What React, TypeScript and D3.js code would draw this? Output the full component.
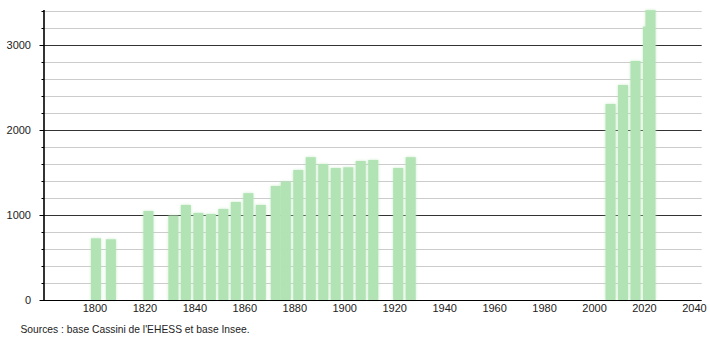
import React from "react";
import * as d3 from "d3";

const years = [1800, 1806, 1821, 1831, 1836, 1841, 1846, 1851, 1856, 1861, 1866, 1872, 1876, 1881, 1886, 1891, 1896, 1901, 1906, 1911, 1921, 1926, 2006, 2011, 2016, 2021, 2022];
const population = [725, 714, 1047, 992, 1118, 1024, 1012, 1071, 1153, 1257, 1118, 1341, 1392, 1529, 1680, 1600, 1553, 1561, 1635, 1647, 1553, 1680, 2306, 2529, 2812, 3216, 3410];
const xTicks = [1800, 1820, 1840, 1860, 1880, 1900, 1920, 1940, 1960, 1980, 2000, 2020, 2040];
const yMajor = [0, 1000, 2000, 3000];
const yMinor = [200, 400, 600, 800, 1200, 1400, 1600, 1800, 2200, 2400, 2600, 2800, 3200, 3400];
const sourceText = "Sources : base Cassini de l'EHESS et base Insee.";

export default function App() {
  const W = 710, H = 340;
  const x = d3.scaleLinear().domain([1779.2, 2042.5]).range([44, 701.7]);
  const y = d3.scaleLinear().domain([0, 3400]).range([300, 11]);
  const font = "'Liberation Sans', Arial, sans-serif";
  const bars = years.map((yr, i) => ({ yr, v: population[i] }));
  const green = "#b2e3b4";
  const py = (v: number) => Math.round(y(v)) + 0.5;
  return (
    <svg width={W} height={H} style={{ position: "absolute", left: 0, top: 0, background: "#fff" }}>
      <defs>
        <filter id="soft" x="-50%" y="-10%" width="200%" height="120%">
          <feGaussianBlur stdDeviation="1.8" />
        </filter>
      </defs>
      {yMinor.map((v) => (
        <line key={"gm" + v} x1={44} x2={701.7} y1={py(v)} y2={py(v)} stroke="#cccccc" strokeWidth={1} />
      ))}
      {yMajor.filter((v) => v > 0).map((v) => (
        <line key={"gM" + v} x1={44} x2={701.7} y1={py(v)} y2={py(v)} stroke="#333333" strokeWidth={1} />
      ))}
      <g filter="url(#soft)" opacity={0.7}>
        {bars.map((b) => (
          <rect key={"s" + b.yr} x={x(b.yr - 2)} y={y(b.v)} width={x(b.yr + 2) - x(b.yr - 2)} height={y(0) - y(b.v)} fill={green} />
        ))}
      </g>
      <g>
        {bars.map((b) => (
          <rect key={"b" + b.yr} x={x(b.yr - 2)} y={y(b.v)} width={x(b.yr + 2) - x(b.yr - 2)} height={y(0) - y(b.v)} fill={green} />
        ))}
      </g>
      {yMinor.map((v) => (
        <line key={"tm" + v} x1={41.5} x2={44} y1={py(v)} y2={py(v)} stroke="#000" strokeWidth={1} />
      ))}
      {yMajor.map((v) => (
        <line key={"tM" + v} x1={39.5} x2={44} y1={py(v)} y2={py(v)} stroke="#000" strokeWidth={1} />
      ))}
      <line x1={44} x2={44} y1={10} y2={300} stroke="#000" strokeWidth={1.6} />
      <line x1={40} x2={701.7} y1={300.5} y2={300.5} stroke="#000" strokeWidth={1} />
      {yMajor.map((v) => (
        <text key={"yl" + v} x={31} y={y(v) + 4} textAnchor="end" fontFamily={font} fontSize={11} fill="#222">
          {v}
        </text>
      ))}
      {xTicks.map((t) => (
        <text key={"xl" + t} x={x(t) - 1} y={312} textAnchor="middle" fontFamily={font} fontSize={11} fill="#222">
          {t}
        </text>
      ))}
      <text x={20.5} y={333} fontFamily={font} fontSize={10.6} fill="#222" textLength={229} lengthAdjust="spacingAndGlyphs">
        {sourceText}
      </text>
    </svg>
  );
}
